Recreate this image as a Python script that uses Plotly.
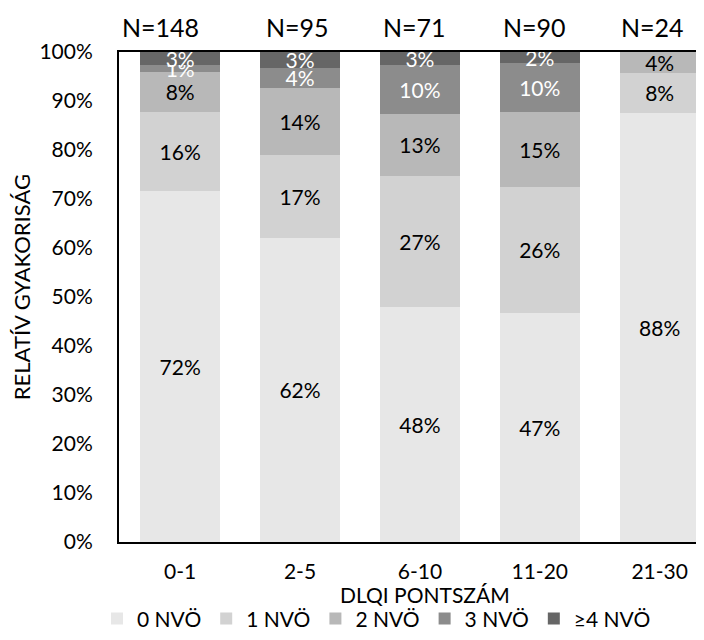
import plotly.graph_objects as go

categories = ["0-1", "2-5", "6-10", "11-20", "21-30"]
n_labels = ["N=148", "N=95", "N=71", "N=90", "N=24"]

series_names = ["0 NVÖ", "1 NVÖ", "2 NVÖ", "3 NVÖ", "≥4 NVÖ"]
nvo0 = [71.6, 62.1, 47.9, 46.8, 87.5]
nvo1 = [16.2, 16.8, 26.8, 25.6, 8.3]
nvo2 = [8.1, 13.7, 12.7, 15.4, 4.2]
nvo3 = [1.4, 4.2, 9.9, 10.0, 0.0]
nvo4 = [2.7, 3.2, 2.8, 2.2, 0.0]

series_values = [nvo0, nvo1, nvo2, nvo3, nvo4]
colors = ["#e7e7e7", "#d2d2d2", "#b8b8b8", "#8c8c8c", "#666666"]
text_colors = ["black", "black", "black", "white", "white"]
n_label_shift = [-20, -3, -5, -5, -7]   # horizontal nudge of header labels (px)

FONT = "Lato"

fig = go.Figure()
for name, vals, col, tcol in zip(series_names, series_values, colors, text_colors):
    fig.add_trace(go.Bar(
        x=categories, y=vals, name=name,
        marker=dict(color=col, line=dict(width=0)),
        text=[f"{round(v)}%" if v > 0 else "" for v in vals],
        textposition="inside", insidetextanchor="middle", textangle=0,
        constraintext="none",
        insidetextfont=dict(family=FONT, size=21, color=tcol),
        hoverinfo="skip",
    ))

for cat, lab, dx in zip(categories, n_labels, n_label_shift):
    fig.add_annotation(x=cat, y=1, xref="x", yref="paper", text=lab,
                       showarrow=False, yanchor="bottom", yshift=8, xshift=dx,
                       font=dict(family=FONT, size=25, color="black"))

# axis titles as annotations
fig.add_annotation(x=0, y=0.52, xref="paper", yref="paper", text="RELATÍV GYAKORISÁG",
                   textangle=-90, showarrow=False, xanchor="center", yanchor="middle",
                   xshift=-98, font=dict(family=FONT, size=22, color="black"))
fig.add_annotation(x=0.523, y=0, xref="paper", yref="paper", text="DLQI PONTSZÁM",
                   showarrow=False, xanchor="center", yanchor="middle",
                   yshift=-52, font=dict(family=FONT, size=21, color="black"))

# page has an 8px body margin, so figure is 8px smaller
fig.update_layout(
    barmode="stack", bargap=0.333,
    width=696, height=632,
    margin=dict(l=111, r=0, t=44, b=94),
    paper_bgcolor="white", plot_bgcolor="white",
    font=dict(family=FONT, size=21, color="black"),
    showlegend=True,
    legend=dict(orientation="h", x=-0.0376, xanchor="left", y=-0.157, yanchor="middle",
                font=dict(family=FONT, size=21), itemwidth=30, traceorder="normal",
                bgcolor="rgba(0,0,0,0)"),
)
fig.update_xaxes(range=[-0.51, 4.37], showline=True, mirror=True, linecolor="black", linewidth=2,
                 ticks="", showgrid=False, tickfont=dict(size=21), ticklabelstandoff=10,
                 automargin=False)
fig.update_yaxes(range=[0, 100], dtick=10, ticksuffix="%", showline=True, linecolor="black", linewidth=2,
                 ticks="", showgrid=False, zeroline=False, ticklabelstandoff=20, tickfont=dict(size=21),
                 automargin=False)

fig.write_html("out.html")
